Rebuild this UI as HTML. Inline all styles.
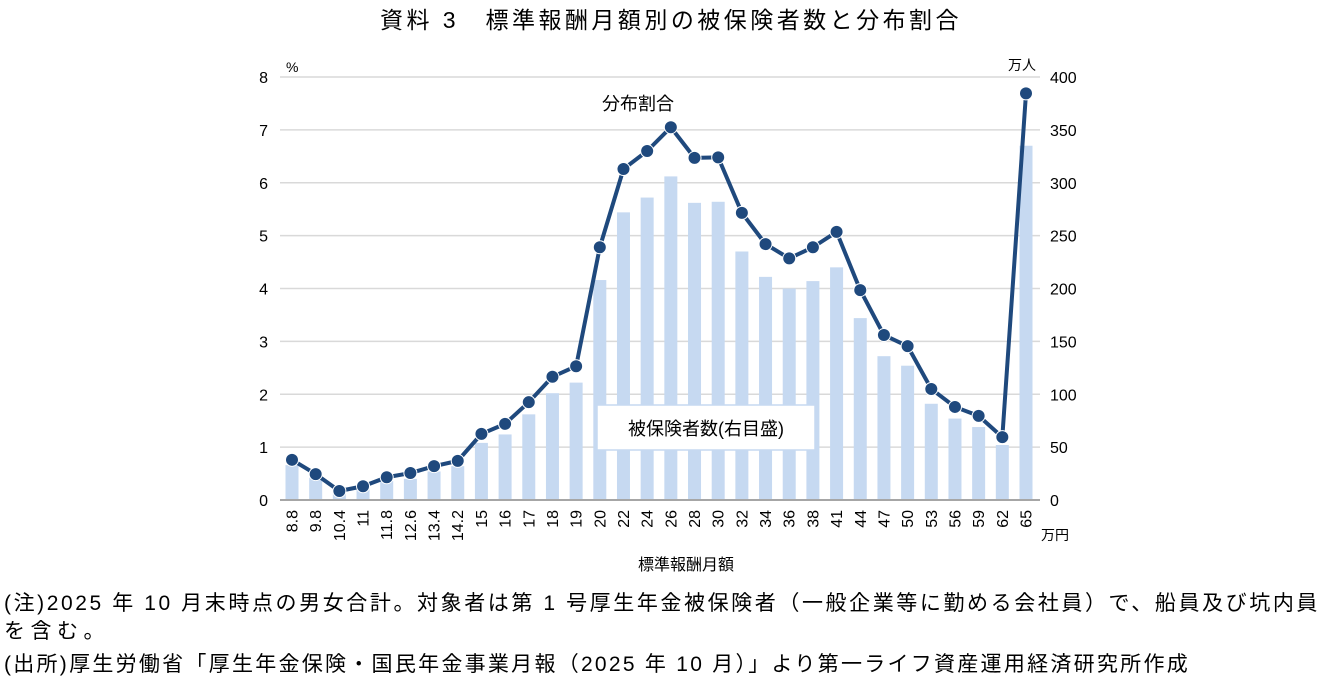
<!DOCTYPE html>
<html><head><meta charset="utf-8">
<style>
body{margin:0;background:#fff;font-family:"Liberation Sans","Noto Sans CJK JP",sans-serif;}
#wrap{position:relative;width:1324px;height:685px;overflow:hidden;}
.t{position:absolute;white-space:nowrap;color:#000;}
.fit{position:absolute;white-space:nowrap;color:#000;display:inline-block;line-height:1.2;}
</style></head><body>
<div id="wrap">
<div class="fit" data-w="582" style="left:380px;top:7px;font-size:23px;">資料 3　標準報酬月額別の被保険者数と分布割合</div>
<svg id="svg" width="1324" height="600" style="position:absolute;left:0;top:0"></svg>
<div class="fit" data-w="1316" style="left:4px;top:591px;font-size:21px;">(注)2025 年 10 月末時点の男女合計。対象者は第 1 号厚生年金被保険者（一般企業等に勤める会社員）で、船員及び坑内員</div>
<div class="fit" data-w="106" style="left:4px;top:619px;font-size:21px;">を含む。</div>
<div class="fit" data-w="1186" style="left:4px;top:652px;font-size:21px;">(出所)厚生労働省「厚生年金保険・国民年金事業月報（2025 年 10 月）」より第一ライフ資産運用経済研究所作成</div>
</div>
<script>
document.querySelectorAll('.fit').forEach(el=>{
  const w=+el.getAttribute('data-w');
  const n=el.textContent.length;
  const nat=el.getBoundingClientRect().width;
  el.style.letterSpacing=((w-nat)/n)+'px';
});
const categories=["8.8","9.8","10.4","11","11.8","12.6","13.4","14.2","15","16","17","18","19","20","22","24","26","28","30","32","34","36","38","41","44","47","50","53","56","59","62","65"];
const shareValues=[0.76,0.49,0.17,0.26,0.43,0.51,0.64,0.74,1.25,1.44,1.85,2.33,2.53,4.78,6.26,6.6,7.05,6.47,6.48,5.43,4.84,4.57,4.78,5.07,3.97,3.12,2.91,2.1,1.76,1.59,1.19,7.69];
const countValues=[33,21,7,10,18,20,27,32,54,62,81,101,111,208,272,286,306,281,282,235,211,200,207,220,172,136,127,91,77,69,52,335];
const leftTicks=[0,1,2,3,4,5,6,7,8];
const rightTicks=[0,50,100,150,200,250,300,350,400];
const NS="http://www.w3.org/2000/svg";
const svg=document.getElementById('svg');
const X0=292,DX=(1026-292)/31,Y0=500,YT=77;
const x=i=>X0+i*DX;
const yL=v=>Y0-(v/8)*(Y0-YT);
const yR=v=>Y0-(v/400)*(Y0-YT);
function mk(tag,attrs,txt){const e=document.createElementNS(NS,tag);for(const k in attrs)e.setAttribute(k,attrs[k]);if(txt!==undefined)e.textContent=txt;svg.appendChild(e);return e;}
leftTicks.forEach(v=>{
  if(v>0){const g=mk('line',{x1:280,x2:1040,y1:yL(v),y2:yL(v),stroke:'#d9d9d9','stroke-width':1.5});
  
  }
  const t=mk('text',{x:268,y:yL(v)+6,'text-anchor':'end','font-size':16},String(v));
  
  
});
rightTicks.forEach(v=>{
  const t=mk('text',{x:1050,y:yR(v)+6,'font-size':16},String(v));
  
  
});
countValues.forEach((v,i)=>{
  const b=mk('rect',{x:x(i)-6.5,y:yR(v),width:13,height:Y0-yR(v),fill:'#c6d9f1'});
  
  
});
const ax=mk('line',{x1:280,x2:1040,y1:Y0,y2:Y0,stroke:'#a6a6a6','stroke-width':2});


const pl=mk('polyline',{points:shareValues.map((v,i)=>x(i)+','+yL(v)).join(' '),fill:'none',stroke:'#1f497d','stroke-width':4,'stroke-linejoin':'round'});


shareValues.forEach((v,i)=>{
  const c=mk('circle',{cx:x(i),cy:yL(v),r:6.5,fill:'#1f497d',stroke:'#fff','stroke-width':1});
  
  
});
categories.forEach((c,i)=>{
  const t=mk('text',{x:0,y:0,'font-size':16,'text-anchor':'end',transform:`translate(${x(i)+5.5},510) rotate(-90)`},c);
  
  
});
const box=mk('rect',{x:597,y:405,width:218,height:45,fill:'#fff',stroke:'#c6d9f1','stroke-width':1.5});


const labels=[[706,435,'被保険者数(右目盛)',18,'middle','bar-series-label'],[638,110,'分布割合',18,'middle','line-series-label'],[286,72,'%',14,'start','left-axis-unit'],[1022,70,'万人',14,'middle','right-axis-unit'],[1055,540,'万円',14,'middle','x-axis-unit'],[686,570,'標準報酬月額',16,'middle','x-axis-title']];
labels.forEach(l=>{
  const t=mk('text',{x:l[0],y:l[1],'font-size':l[3],'text-anchor':l[4]},l[2]);
  
  
});
</script>
</body></html>
